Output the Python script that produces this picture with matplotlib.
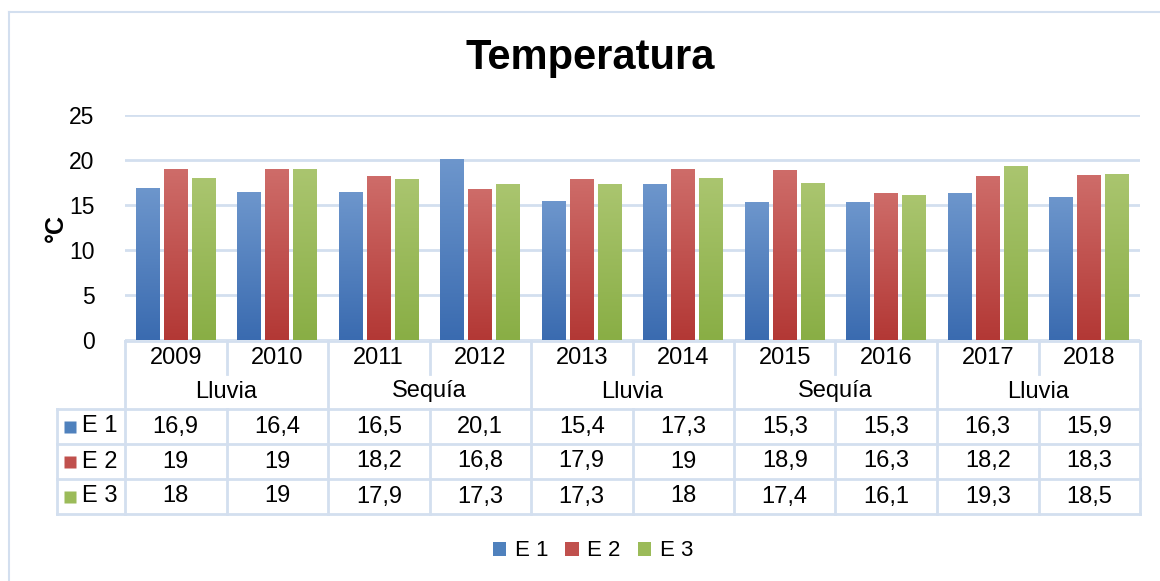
import numpy as np
import matplotlib
matplotlib.use('Agg')
import matplotlib.pyplot as plt
from matplotlib.patches import Patch
from matplotlib.colors import LinearSegmentedColormap

plt.rcParams['font.family'] = ['Liberation Sans', 'DejaVu Sans']

years = ['2009', '2010', '2011', '2012', '2013', '2014', '2015', '2016', '2017', '2018']
groups = ['Lluvia', 'Sequía', 'Lluvia', 'Sequía', 'Lluvia']
series = ['E 1', 'E 2', 'E 3']
e1 = [16.9, 16.4, 16.5, 20.1, 15.4, 17.3, 15.3, 15.3, 16.3, 15.9]
e2 = [19, 19, 18.2, 16.8, 17.9, 19, 18.9, 16.3, 18.2, 18.3]
e3 = [18, 19, 17.9, 17.3, 17.3, 18, 17.4, 16.1, 19.3, 18.5]
values = [e1, e2, e3]

# top / bottom colours of the gradient fills
grad = [('#6D96CC', '#3A6BB0'), ('#CE6C69', '#B33835'), ('#AAC56F', '#89AE45')]
mid = ['#4F81BD', '#C0504D', '#9BBB59']
line_col = '#D3DFEF'

W, H = 1160, 581
fig = plt.figure(figsize=(W / 100, H / 100), dpi=100)


def px(x0, y0, x1, y1):
    return [x0 / W, 1 - y1 / H, (x1 - x0) / W, (y1 - y0) / H]


# outer chart border (left and top edges only visible)
fig.add_artist(plt.Line2D([9 / W, 9 / W], [0, 1 - 12 / H], color=line_col, lw=1.5))
fig.add_artist(plt.Line2D([9 / W, 1], [1 - 12 / H, 1 - 12 / H], color=line_col, lw=1.5))

ax = fig.add_axes(px(125, 115, 1140, 340))
x = np.arange(len(years))
bw = 0.232
step = 0.276
for i, vals in enumerate(values):
    bars = ax.bar(x + (i - 1) * step, vals, width=bw, facecolor='none', edgecolor='none', zorder=3)
    cmap = LinearSegmentedColormap.from_list('g%d' % i, [grad[i][1], grad[i][0]])
    for b in bars:
        x0, y0 = b.get_x(), b.get_y()
        w, h = b.get_width(), b.get_height()
        im = ax.imshow(np.linspace(0, 1, 100).reshape(-1, 1), cmap=cmap, aspect='auto',
                       origin='lower', extent=(x0, x0 + w, y0, y0 + h), zorder=3)
        im.set_clip_path(b)

ax.set_xlim(-0.5, len(years) - 0.5)
ax.set_ylim(0, 25)
ax.set_yticks([0, 5, 10, 15, 20, 25])
ax.yaxis.grid(True, color=line_col, lw=2)
ax.set_axisbelow(True)
ax.set_xticks([])
for s in ax.spines.values():
    s.set_visible(False)
ax.tick_params(axis='y', length=0, pad=22, labelsize=16.5)
ax.set_ylabel('°C', fontsize=18, fontweight='bold', labelpad=1)

fig.text(590 / W, 1 - 58 / H, 'Temperatura', fontsize=30, fontweight='bold',
         ha='center', va='center')

# data table under the chart
tax = fig.add_axes(px(57, 341, 1140, 514))
unit = 1015 / len(years)
left = -0.5 - (125 - 57) / unit
right = len(years) - 0.5
tax.set_xlim(left, right)
tax.set_ylim(514, 341)
tax.axis('off')
rows = [341, 374, 409, 444, 479, 514]
lk = dict(color=line_col, lw=2, clip_on=False, solid_capstyle='projecting')

tax.plot([-0.5, right], [rows[0], rows[0]], **lk)
for r in rows[2:]:
    tax.plot([left, right], [r, r], **lk)
tax.plot([left, left], [rows[2], rows[-1]], **lk)
for k in range(len(years) + 1):
    xv = k - 0.5
    if k % 2 == 0:
        tax.plot([xv, xv], [rows[0], rows[-1]], **lk)
    else:
        tax.plot([xv, xv], [rows[0], rows[1]], **lk)
        tax.plot([xv, xv], [rows[2], rows[-1]], **lk)

fs = 17
for k, yr in enumerate(years):
    tax.text(k, (rows[0] + rows[1]) / 2 + 1, yr, ha='center', va='center', fontsize=fs)
for g, name in enumerate(groups):
    tax.text(2 * g + 0.5, (rows[1] + rows[2]) / 2, name, ha='center', va='center', fontsize=fs)
for i, vals in enumerate(values):
    yc = (rows[2 + i] + rows[3 + i]) / 2
    tax.plot([left + 13 / unit], [yc], marker='s', ms=9, color=mid[i], mec='none', clip_on=False)
    tax.text(left + 25 / unit, yc, series[i], ha='left', va='center', fontsize=fs)
    for k, v in enumerate(vals):
        tax.text(k, yc, ('%g' % v).replace('.', ','), ha='center', va='center', fontsize=fs)

handles = [Patch(facecolor=c, edgecolor='none') for c in mid]
fig.legend(handles, series, loc='center', bbox_to_anchor=(593 / W, 1 - 551 / H), ncol=3,
           frameon=False, fontsize=16, handlelength=0.6, handleheight=0.6,
           handletextpad=0.4, columnspacing=0.75)

fig.savefig('out.png', dpi=100)
